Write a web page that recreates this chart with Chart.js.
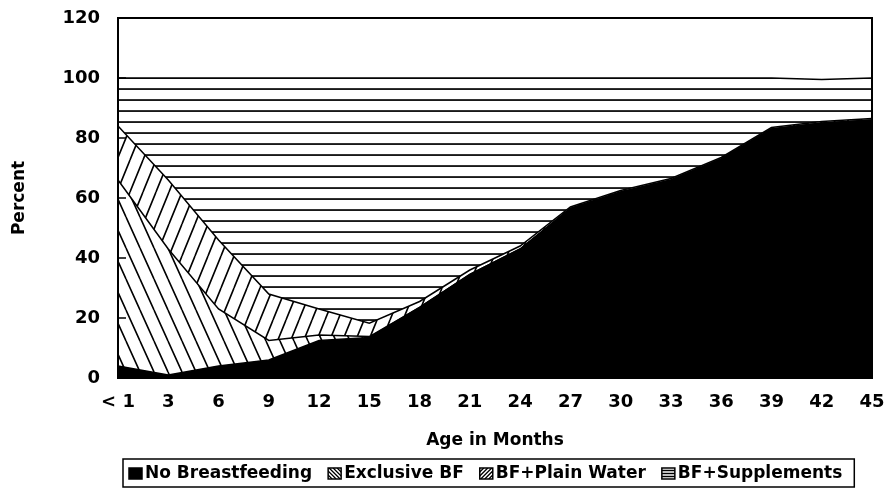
<!DOCTYPE html>
<html>
<head>
<meta charset="utf-8">
<script src="https://cdn.jsdelivr.net/npm/chart.js@4.4.1/dist/chart.umd.min.js"></script>
<style>
    html, body { margin: 0; padding: 0; background: #fff; }
    #wrap { width: 886px; height: 489px; }
</style>
</head>
<body>
<div id="wrap"><canvas id="chart" width="886" height="489"></canvas></div>
<script>
// age groups (months)
const ageLabels = ['< 1', '3', '6', '9', '12', '15', '18', '21', '24', '27', '30', '33', '36', '39', '42', '45'];

// percent of children in each feeding group (stacked, bottom to top)
const noBreastfeeding = [4, 1, 4, 6, 12.5, 13.5, 23.5, 34.5, 43, 56.5, 62, 66, 73, 83, 85, 86];
const exclusiveBF     = [62, 42, 19, 6.5, 1.8, 0.3, 0, 0, 0, 0, 0, 0, 0, 0, 0, 0];
const plainWater      = [18, 23, 23, 15.5, 8.7, 4.5, 2, 1.5, 1, 0.5, 0.5, 0.5, 0.5, 0.5, 0.5, 0.5];
const supplements     = [16, 34, 54, 72, 77, 81.7, 74.5, 64, 56, 43, 37.5, 33.5, 26.5, 16.5, 14, 13.5];

const yTicks = [0, 20, 40, 60, 80, 100, 120];

const FONT = '"DejaVu Sans", "Liberation Sans", Arial, sans-serif';

// hatch patterns like the old printed chart
function makeHatch(kind) {
    const c = document.createElement('canvas');
    const ctx = c.getContext('2d');
    if (kind === 'horiz') {
        c.width = 8; c.height = 11;
        ctx.fillStyle = '#fff';
        ctx.fillRect(0, 0, c.width, c.height);
        ctx.fillStyle = '#000';
        ctx.fillRect(0, 0.2, c.width, 1.7);
    } else {
        const w = kind === 'back' ? 14 : 13;
        const h = kind === 'back' ? 31 : 32;
        c.width = w; c.height = h;
        ctx.fillStyle = '#fff';
        ctx.fillRect(0, 0, w, h);
        ctx.strokeStyle = '#000';
        ctx.lineWidth = 1.6;
        ctx.beginPath();
        for (let k = -1; k <= 1; k++) {
            if (kind === 'back') {
                ctx.moveTo(k * w, 0);
                ctx.lineTo(k * w + w, h);
            } else {
                ctx.moveTo(k * w, h);
                ctx.lineTo(k * w + w, 0);
            }
        }
        ctx.stroke();
    }
    return document.getElementById('chart').getContext('2d').createPattern(c, 'repeat');
}

// small swatch fills for the legend (tighter hatching than the plot)
function swatchFill(ctx, kind, x, y, w, h) {
    ctx.save();
    ctx.fillStyle = kind === 'solid' ? '#000' : '#fff';
    ctx.fillRect(x, y, w, h);
    ctx.beginPath();
    ctx.rect(x, y, w, h);
    ctx.clip();
    ctx.strokeStyle = '#000';
    ctx.lineWidth = 1.3;
    ctx.beginPath();
    if (kind === 'back') {
        for (let i = -h; i < w; i += 4) { ctx.moveTo(x + i, y); ctx.lineTo(x + i + h, y + h); }
    } else if (kind === 'fwd') {
        for (let i = 0; i < w + h; i += 4) { ctx.moveTo(x + i, y); ctx.lineTo(x + i - h, y + h); }
    } else if (kind === 'horiz') {
        for (let j = 2.5; j < h; j += 3) { ctx.moveTo(x, y + j); ctx.lineTo(x + w, y + j); }
    }
    ctx.stroke();
    ctx.restore();
    ctx.save();
    ctx.strokeStyle = '#000';
    ctx.lineWidth = 1.5;
    ctx.strokeRect(x, y, w, h);
    ctx.restore();
}

const swatchKinds = ['solid', 'back', 'fwd', 'horiz'];

const frameAndLegend = {
    id: 'frameAndLegend',
    afterDraw(chart) {
        const ctx = chart.ctx;
        const a = chart.chartArea;
        ctx.save();
        // frame round the plot area
        ctx.strokeStyle = '#000';
        ctx.lineWidth = 2;
        ctx.strokeRect(a.left, a.top, a.right - a.left, a.bottom - a.top);

        // short inward tick marks on the value axis
        const ys = chart.scales.y;
        ctx.lineWidth = 1.5;
        ctx.beginPath();
        yTicks.forEach(v => {
            const py = ys.getPixelForValue(v);
            ctx.moveTo(a.left, py);
            ctx.lineTo(a.left + 8, py);
        });
        ctx.stroke();

        // legend in a box under the axis title
        ctx.font = 'bold 17px ' + FONT;
        ctx.textBaseline = 'middle';
        ctx.fillStyle = '#000';
        let x = 129;
        const cy = 474;
        chart.data.datasets.forEach((d, i) => {
            swatchFill(ctx, swatchKinds[i], x, cy - 6, 13, 11);
            x += 16;
            ctx.fillStyle = '#000';
            ctx.fillText(d.label, x, cy);
            x += ctx.measureText(d.label).width + 16;
        });
        ctx.lineWidth = 1.5;
        ctx.strokeRect(123, 459, x - 123 - 4, 28);
        ctx.restore();
    }
};

const ds = (label, data, bg, fill) => ({
    label, data, fill,
    backgroundColor: bg,
    borderColor: '#000',
    borderWidth: 1.5,
    pointRadius: 0,
    tension: 0
});

new Chart(document.getElementById('chart'), {
    type: 'line',
    data: {
        labels: ageLabels,
        datasets: [
            ds('No Breastfeeding', noBreastfeeding, '#000', 'origin'),
            ds('Exclusive BF', exclusiveBF, makeHatch('back'), '-1'),
            ds('BF+Plain Water', plainWater, makeHatch('fwd'), '-1'),
            ds('BF+Supplements', supplements, makeHatch('horiz'), '-1')
        ]
    },
    options: {
        responsive: false,
        animation: false,
        layout: { padding: { top: 18, right: 14, left: 0, bottom: 0 } },
        plugins: {
            legend: { display: false },
            tooltip: { enabled: false }
        },
        scales: {
            x: {
                offset: false,
                grid: { display: false, drawTicks: false },
                border: { display: true, color: '#000', width: 2 },
                ticks: {
                    color: '#000', padding: 14, maxRotation: 0, autoSkip: false,
                    font: { family: FONT, size: 18, weight: 'bold' }
                },
                title: {
                    display: true, text: 'Age in Months', color: '#000',
                    font: { family: FONT, size: 17, weight: 'bold' },
                    padding: { top: 4, bottom: 38 }
                },
                afterFit: s => {
                    s.height = 111;
                    s.paddingLeft = 0;
                    s.paddingRight = 0;
                }
            },
            y: {
                stacked: true,
                min: 0, max: 120,
                afterBuildTicks: s => { s.ticks = yTicks.map(v => ({ value: v })); },
                grid: { display: false, drawTicks: false },
                border: { display: true, color: '#000', width: 2 },
                ticks: {
                    color: '#000', padding: 18,
                    font: { family: FONT, size: 18, weight: 'bold' }
                },
                title: {
                    display: true, text: 'Percent', color: '#000',
                    font: { family: FONT, size: 17, weight: 'bold' },
                    padding: { top: 9, bottom: 0 }
                },
                afterFit: s => {
                    s.width = 118;
                    s.paddingTop = 0;
                    s.paddingBottom = 0;
                }
            }
        }
    },
    plugins: [frameAndLegend]
});
</script>
</body>
</html>
